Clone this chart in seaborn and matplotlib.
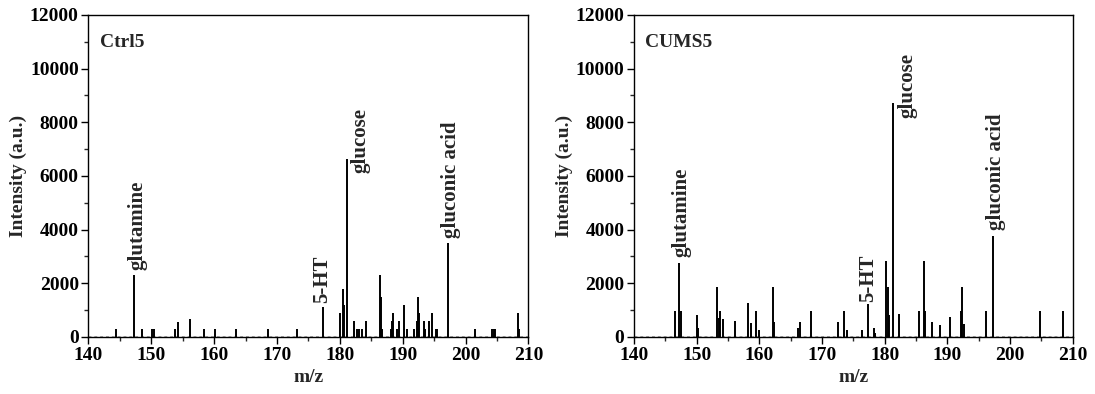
import matplotlib
matplotlib.use("Agg")
import matplotlib.pyplot as plt
import seaborn as sns
import numpy as np
from matplotlib.ticker import MultipleLocator

# Данные спектров (m/z, интенсивность)
ctrl_mz = [144.3, 147.24, 148.5, 150.15, 150.4, 153.76, 154.2, 156.1, 158.37, 160.2,
           163.4, 168.56, 173.22, 177.26, 180.06, 180.49, 180.65, 181.07, 182.19, 182.66,
           183.1, 183.46, 184.2, 186.32, 186.53, 186.74, 188.13, 188.29, 188.5, 189.08,
           189.35, 190.19, 190.62, 191.73, 192.2, 192.42, 192.63, 193.32, 193.53, 194.22,
           194.6, 195.3, 195.5, 197.19, 201.44, 204.2, 204.45, 204.7, 208.28, 208.45]
ctrl_int = [300, 2300, 300, 300, 300, 300, 570, 680, 300, 300,
            300, 300, 300, 1100, 900, 1800, 1200, 6650, 600, 300,
            300, 300, 600, 2300, 1500, 300, 300, 600, 900, 300,
            600, 1200, 300, 300, 600, 1500, 900, 600, 300, 600,
            900, 300, 300, 3500, 300, 300, 300, 300, 900, 300]

cums_mz = [146.49, 147.23, 147.5, 150.05, 150.26, 153.3, 153.5, 153.67, 154.25, 156.06,
           158.19, 158.67, 159.41, 160.0, 162.19, 162.35, 166.17, 166.54, 168.19, 172.5,
           173.46, 173.99, 176.38, 177.29, 178.24, 178.5, 180.16, 180.48, 180.69, 181.33,
           182.29, 185.48, 186.22, 186.49, 187.5, 188.77, 190.37, 192.12, 192.38, 192.6,
           196.18, 197.3, 204.73, 208.5]
cums_int = [950, 2750, 950, 820, 320, 1880, 700, 950, 670, 600,
            1280, 530, 950, 250, 1880, 550, 350, 550, 950, 550,
            950, 250, 250, 1220, 350, 150, 2830, 1880, 820, 8710,
            860, 950, 2830, 950, 550, 450, 750, 950, 1880, 500,
            950, 3760, 950, 950]

# Подписи пиков: текст, x центра, нижняя граница
ctrl_labels = ["glutamine", "5-HT", "glucose", "gluconic acid"]
ctrl_label_x = [147.85, 177.1, 183.3, 197.6]
ctrl_label_y = [2500, 1250, 6100, 3680]

cums_labels = ["glutamine", "5-HT", "glucose", "gluconic acid"]
cums_label_x = [147.6, 177.4, 183.6, 197.7]
cums_label_y = [2990, 1310, 8150, 3990]

panel_titles = ["Ctrl5", "CUMS5"]

sns.set_style("ticks")
plt.rcParams["font.family"] = ["Liberation Serif", "DejaVu Serif"]
plt.rcParams["font.weight"] = "bold"

fig = plt.figure(figsize=(10.95, 3.94), dpi=100)
ax1 = fig.add_axes([0.0808, 0.1447, 0.4018, 0.8173])
ax2 = fig.add_axes([0.5790, 0.1447, 0.4006, 0.8173])

panels = [
    (ax1, ctrl_mz, ctrl_int, ctrl_labels, ctrl_label_x, ctrl_label_y, panel_titles[0]),
    (ax2, cums_mz, cums_int, cums_labels, cums_label_x, cums_label_y, panel_titles[1]),
]

for ax, mz, inten, labels, lx, ly, title in panels:
    # шумовая базовая линия
    ax.axhline(25, color="#aaaaaa", lw=0.7, ls=(0, (3, 3)), zorder=1)
    ax.vlines(mz, 0, inten, color="black", lw=1.4, zorder=2)
    for txt, x, y in zip(labels, lx, ly):
        ax.text(x, y, txt, rotation=90, ha="center", va="bottom",
                fontsize=15, fontweight="bold")
    ax.text(0.026, 0.915, title, transform=ax.transAxes, ha="left", va="center",
            fontsize=14, fontweight="bold")

    ax.set_xlim(140, 210)
    ax.set_ylim(0, 12000)
    ax.xaxis.set_major_locator(MultipleLocator(10))
    ax.xaxis.set_minor_locator(MultipleLocator(5))
    ax.yaxis.set_major_locator(MultipleLocator(2000))
    ax.yaxis.set_minor_locator(MultipleLocator(1000))
    ax.tick_params(axis="both", which="major", direction="out", length=5, width=1,
                   labelsize=14, pad=2, colors="black")
    ax.tick_params(axis="both", which="minor", direction="out", length=3, width=1)
    for lab in ax.get_xticklabels() + ax.get_yticklabels():
        lab.set_fontweight("bold")
    for sp in ax.spines.values():
        sp.set_visible(True)
        sp.set_linewidth(1.0)
        sp.set_color("black")
    ax.set_xlabel("m/z", fontsize=14, fontweight="bold", labelpad=4)
    ax.set_ylabel("Intensity (a.u.)", fontsize=14, fontweight="bold", labelpad=2)

fig.savefig("out.png", dpi=100)
